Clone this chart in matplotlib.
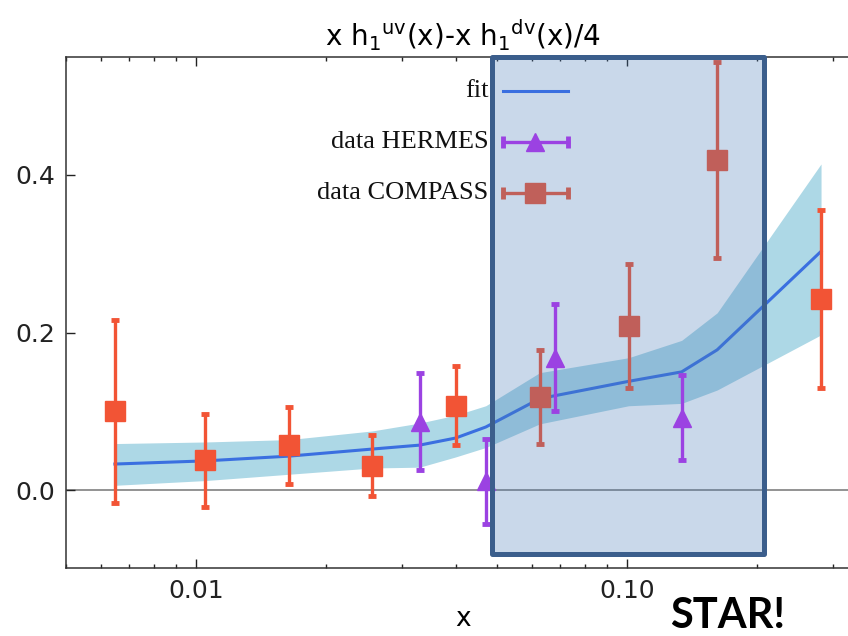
"""
x h1^uv - x h1^dv / 4 : fit band + HERMES / COMPASS points, STAR range box
"""

import numpy as np
import matplotlib
matplotlib.use("Agg")
import matplotlib.pyplot as plt
from matplotlib.patches import Rectangle
from matplotlib.ticker import LogLocator, FixedLocator, FixedFormatter, NullFormatter

plt.rcParams["font.family"] = ["DejaVu Sans"]
plt.rcParams["mathtext.fontset"] = "dejavusans"

# fit curve with uncertainty band
fit_x = [0.00648, 0.0105, 0.0164, 0.0256, 0.0330, 0.0400, 0.0470, 0.0627, 0.1008, 0.1338, 0.1618, 0.2818]
fit_y = [0.033, 0.037, 0.043, 0.052, 0.057, 0.066, 0.080, 0.116, 0.138, 0.150, 0.178, 0.303]
fit_hi = [0.059, 0.061, 0.064, 0.075, 0.085, 0.095, 0.107, 0.149, 0.168, 0.190, 0.225, 0.414]
fit_lo = [0.006, 0.012, 0.020, 0.028, 0.029, 0.042, 0.054, 0.084, 0.107, 0.110, 0.127, 0.197]

# HERMES points
hermes_x = [0.0330, 0.0470, 0.0680, 0.1338]
hermes_y = [0.087, 0.011, 0.168, 0.092]
hermes_err = [0.061, 0.054, 0.068, 0.054]

# COMPASS points
compass_x = [0.00648, 0.0105, 0.0164, 0.0256, 0.0400, 0.0627, 0.1008, 0.1618, 0.2818]
compass_y = [0.100, 0.038, 0.057, 0.031, 0.107, 0.118, 0.208, 0.419, 0.243]
compass_err = [0.116, 0.059, 0.049, 0.039, 0.050, 0.060, 0.079, 0.125, 0.113]

# STAR kinematic range (x) and box height
star_x = [0.04855, 0.2075]
star_y = [-0.081, 0.550]

legend_labels = ["fit", "data HERMES", "data COMPASS"]

C_FIT = "#3a6fe0"
C_BAND = "#add8e6"
C_HERMES = "#9b42e2"
C_COMPASS = "#f25435"
C_BOX = "#477ab7"
C_BOX_EDGE = "#3b5e8c"


def main():
    fig = plt.figure(figsize=(8.48, 6.36), dpi=100)
    ax = fig.add_axes([66 / 848, 68 / 636, 794 / 848, 511 / 636])

    ax.set_xscale("log")
    ax.set_xlim(0.00499, 0.347)
    ax.set_ylim(-0.099, 0.5498)

    ax.axhline(0, color="#808080", lw=1.2, zorder=1)

    # band + fit
    ax.fill_between(fit_x, fit_lo, fit_hi, color=C_BAND, lw=0, zorder=2)
    ax.plot(fit_x, fit_y, color=C_FIT, lw=2.2, zorder=3)

    # COMPASS (under the STAR box)
    ax.errorbar(compass_x, compass_y, yerr=compass_err, fmt="s", color=C_COMPASS,
                ms=15, elinewidth=2.4, capsize=3, capthick=3.5, zorder=4)

    # STAR box
    x0, x1 = star_x
    y0, y1 = star_y
    ax.add_patch(Rectangle((x0, y0), x1 - x0, y1 - y0, facecolor=C_BOX, alpha=0.29,
                           edgecolor="none", zorder=5, clip_on=False))

    # HERMES (on top)
    ax.errorbar(hermes_x, hermes_y, yerr=hermes_err, fmt="^", color=C_HERMES,
                ms=13, elinewidth=2.4, capsize=3, capthick=3.5, zorder=6)

    ax.add_patch(Rectangle((x0, y0), x1 - x0, y1 - y0, facecolor="none",
                           edgecolor=C_BOX_EDGE, lw=3.6, joinstyle="round",
                           zorder=8, clip_on=False))

    # hand-drawn legend, text right aligned with the handle on its right
    tr = ax.transAxes
    rows_y = [0.934, 0.834, 0.733]
    for lab, yy in zip(legend_labels, rows_y):
        ax.text(0.532, yy, lab, transform=tr, ha="right", va="center",
                family="Liberation Serif", fontsize=19, color="#111111", zorder=7)
    ax.plot([0.550, 0.632], [rows_y[0]] * 2, transform=tr, color=C_FIT, lw=2.2, zorder=7)
    for yy, col, mk, ms in [(rows_y[1], C_HERMES, "^", 13), (rows_y[2], "#c0605a", "s", 15)]:
        ax.plot([0.550, 0.632], [yy, yy], transform=tr, color=col, lw=2.4, zorder=7)
        ax.plot([0.550, 0.632], [yy, yy], transform=tr, color=col, ls="none",
                marker="|", ms=8, mew=3.5, zorder=7)
        ax.plot([0.591], [yy], transform=tr, color=col, marker=mk, ms=ms, zorder=7)

    # ticks
    ax.xaxis.set_major_locator(FixedLocator([0.01, 0.1]))
    ax.xaxis.set_major_formatter(FixedFormatter(["0.01", "0.10"]))
    ax.xaxis.set_minor_locator(LogLocator(base=10, subs=np.arange(2, 10)))
    ax.xaxis.set_minor_formatter(NullFormatter())
    ax.set_yticks([0.0, 0.2, 0.4])
    ax.set_yticklabels(["0.0", "0.2", "0.4"])
    ax.tick_params(which="both", direction="in", top=True, right=True,
                   labelsize=18, colors="#222222", width=1.0)
    ax.tick_params(which="major", length=6.5, pad=8)
    ax.tick_params(which="minor", length=3.2)
    for sp in ax.spines.values():
        sp.set_color("#333333")
        sp.set_linewidth(1.1)

    ax.set_xlabel("x", fontsize=19, labelpad=2)
    ax.set_title(r"x h$\mathregular{_1}$$\mathregular{^{uv}}$(x)-x h$\mathregular{_1}$$\mathregular{^{dv}}$(x)/4",
                 fontsize=20, pad=8)

    fig.text(728 / 848, 1 - 616 / 636, "STAR!", family="Lato", fontweight="bold",
             fontsize=30, ha="center", va="center", color="black")

    fig.savefig("out.png", dpi=100)


if __name__ == "__main__":
    main()
